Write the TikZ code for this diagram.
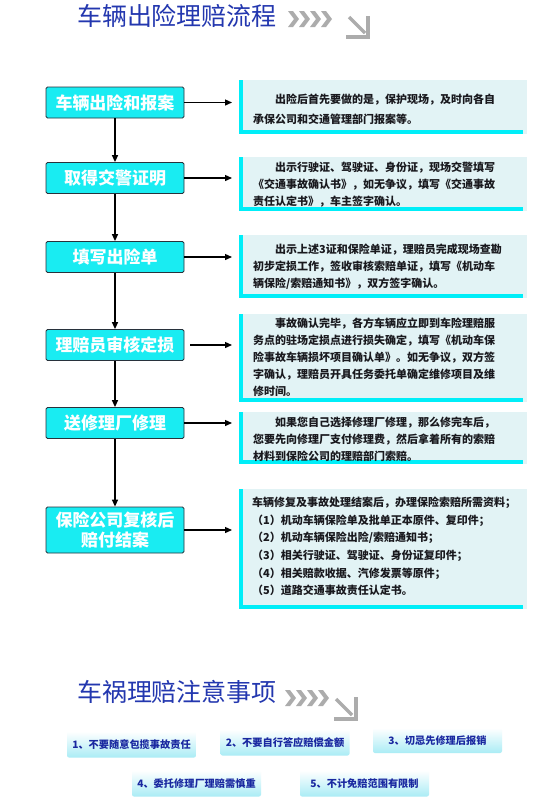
\documentclass[tikz,border=0pt]{standalone}
\usepackage{fontspec}
\setmainfont{Noto Sans CJK SC}
\newfontfamily\cjk{Noto Sans CJK SC}
\usetikzlibrary{arrows.meta,shadings}
\definecolor{cyanbox}{RGB}{25,236,242}
\definecolor{boxborder}{RGB}{40,50,60}
\definecolor{rfill}{RGB}{226,243,245}
\definecolor{rbar}{RGB}{0,238,248}
\definecolor{titleblue}{RGB}{35,55,175}
\definecolor{rtext}{RGB}{25,25,30}
\definecolor{notetext}{RGB}{25,40,160}
\definecolor{notebottom}{RGB}{170,236,245}
\definecolor{chevgray}{RGB}{172,172,172}
\begin{document}
\begin{tikzpicture}[x=1pt,y=-1pt,
  lbox/.style={draw=boxborder, line width=0.8pt, fill=cyanbox, rounded corners=1.5pt,
    minimum width=138pt, minimum height=31pt, inner sep=0pt, align=center,
    text=white, font=\cjk\bfseries\fontsize{17}{20}\selectfont},
  rbox/.style={fill=rfill, minimum width=288pt, inner sep=0pt, anchor=north west},
  rtxt/.style={anchor=north west, inner sep=0pt, align=left, text=rtext,
    font=\cjk\bfseries\fontsize{11}{17}\selectfont},
  flow/.style={-{Triangle[length=7pt,width=6pt]}, line width=1.3pt, black},
  note/.style={top color=white, bottom color=notebottom, rounded corners=2pt,
    minimum width=129pt, minimum height=26pt, inner sep=0pt, text=notetext,
    font=\cjk\bfseries\fontsize{10.2}{12}\selectfont},
  ttl/.style={inner sep=0pt, text=titleblue, font=\cjk\fontsize{25}{25}\selectfont},
  chev/.style={fill=chevgray},
  garrow/.style={draw=chevgray, line width=3.5pt}
]
\useasboundingbox (0,0) rectangle (555,804);
\fill[white] (0,0) rectangle (555,804);

% ---------- title 1 ----------
\node[ttl] (title1) at (177,16) {车辆出险理赔流程};
\foreach \i in {0,...,3}
  \fill[chev] ({288+11*\i},11) -- ++(5,0) -- ++(6,8) -- ++(-6,8) -- ++(-5,0) -- ++(6,-8) -- cycle;
\draw[garrow] (349,17) -- (365,33);
\draw[garrow, line join=miter] (346,37) -- (368,37) -- (368,16);

% ---------- left flow boxes ----------
\node[lbox] (b1) at (115,102.5) {车辆出险和报案};
\node[lbox] (b2) at (115,178) {取得交警证明};
\node[lbox] (b3) at (115,257) {填写出险单};
\node[lbox] (b4) at (115,345) {理赔员审核定损};
\node[lbox] (b5) at (115,423) {送修理厂修理};
\node[lbox, minimum height=46pt] (b6) at (115,530) {保险公司复核后\\赔付结案};

\draw[flow] (b1) -- (b2);
\draw[flow] (b2) -- (b3);
\draw[flow] (b3) -- (b4);
\draw[flow] (b4) -- (b5);
\draw[flow] (b5) -- (b6);

% ---------- right description boxes ----------
\foreach \n/\t/\h in {1/80/54, 2/157/54, 3/235/63, 4/314/88, 5/412/52, 6/489/120} {
  \node[rbox, minimum height=\h pt] (r\n) at (239,\t) {};
  \fill[rbar] (r\n.north west) rectangle ([xshift=4pt]r\n.south west);
  \fill[rbar] ([yshift=4pt]r\n.south west) rectangle ([xshift=-4pt]r\n.south east);
}

\draw[flow, shorten >=7pt] (b1.east) -- (b1.east -| r1.west);
\draw[flow, shorten >=7pt] (b2.east) -- (b2.east -| r2.west);
\draw[flow, shorten >=7pt] (b3.east) -- (b3.east -| r3.west);
\draw[flow, shorten >=7pt, shorten <=6pt] (b4.east) -- (b4.east -| r4.west);
\draw[flow, shorten >=7pt] (b5.east) -- (b5.east -| r5.west);
\draw[flow, shorten >=7pt] (b6.east) -- (b6.east -| r6.west);

\node[rtxt, font=\cjk\bfseries\fontsize{11}{19.5}\selectfont] (t1) at (253,94) {%
\hspace*{22pt}出险后首先要做的是，保护现场，及时向各自\\
承保公司和交通管理部门报案等。};
\node[rtxt] (t2) at (253,161.5) {%
\hspace*{22pt}出示行驶证、驾驶证、身份证，现场交警填写\\
《交通事故确认书》，如无争议，填写《交通事故\\
责任认定书》，车主签字确认。};
\node[rtxt] (t3) at (253,244) {%
\hspace*{22pt}出示上述3证和保险单证，理赔员完成现场查勘\\
初步定损工作，签收审核索赔单证，填写《机动车\\
辆保险/索赔通知书》，双方签字确认。};
\node[rtxt] (t4) at (253,318) {%
\hspace*{22pt}事故确认完毕，各方车辆应立即到车险理赔服\\
务点的驻场定损点进行损失确定，填写《机动车保\\
险事故车辆损坏项目确认单》。如无争议，双方签\\
字确认，理赔员开具任务委托单确定维修项目及维\\
修时间。};
\node[rtxt] (t5) at (253,417) {%
\hspace*{22pt}如果您自己选择修理厂修理，那么修完车后，\\
您要先向修理厂支付修理费，然后拿着所有的索赔\\
材料到保险公司的理赔部门索赔。};
\node[rtxt, font=\cjk\bfseries\fontsize{11}{17.6}\selectfont] (t6) at (252,497) {%
车辆修复及事故处理结案后，办理保险索赔所需资料；\\
（1）机动车辆保险单及批单正本原件、复印件；\\
（2）机动车辆保险出险/索赔通知书；\\
（3）相关行驶证、驾驶证、身份证复印件；\\
（4）相关赔款收据、汽修发票等原件；\\
（5）道路交通事故责任认定书。};

% ---------- title 2 ----------
\node[ttl] (title2) at (177,692) {车祸理赔注意事项};
\foreach \i in {0,...,3}
  \fill[chev] ({285+11*\i},690) -- ++(5,0) -- ++(6,8) -- ++(-6,8) -- ++(-5,0) -- ++(6,-8) -- cycle;
\draw[garrow] (336,699) -- (352,715);
\draw[garrow, line join=miter] (334,719) -- (356,719) -- (356,697);

% ---------- notes ----------
\node[note] (n1) at (131.5,744.5) {1、不要随意包揽事故责任};
\node[note] (n2) at (285,742.5) {2、不要自行答应赔偿金额};
\node[note, minimum height=25pt] (n3) at (437.5,740.5) {3、切忌先修理后报销};
\node[note] (n4) at (196.5,783.5) {4、委托修理厂理赔需慎重};
\node[note] (n5) at (364.5,783.5) {5、不计免赔范围有限制};
\end{tikzpicture}
\end{document}
